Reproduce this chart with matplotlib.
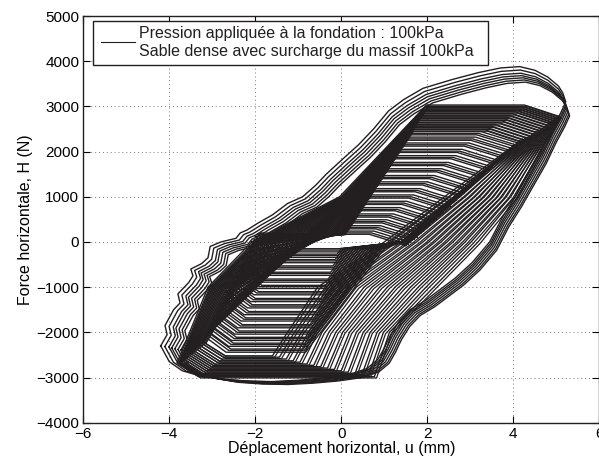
import numpy as np
import matplotlib
matplotlib.use('Agg')
import matplotlib.pyplot as plt
from matplotlib.patches import Rectangle

plt.rcParams['font.family'] = ['Liberation Sans', 'DejaVu Sans']

LINE = '#231f20'

# ---------------- data ----------------
# clean inner cycles (growing amplitude): plateau forces and tip displacements
inner_top_h = [200, 320, 450, 580, 720, 860, 1000, 1140, 1290, 1430, 1580, 1720, 1870,
               2010, 2150, 2280, 2400]
inner_bot_h = [-180, -300, -420, -560, -700, -850, -990, -1130, -1280, -1420, -1570,
               -1710, -1860, -2000, -2140, -2270, -2400]
inner_tip_pos_u = [1.55, 1.70, 1.85, 2.00, 2.15, 2.31, 2.47, 2.62, 2.79, 2.95, 3.12,
                   3.28, 3.45, 3.60, 3.76, 3.91, 4.05]
inner_tip_neg_u = [-1.95, -2.03, -2.10, -2.17, -2.25, -2.33, -2.40, -2.47, -2.55, -2.62,
                   -2.70, -2.77, -2.85, -2.92, -2.99, -3.06, -3.12]
# where each inner cycle passes the pinched zone near H = 0 (reloading / unloading)
inner_reload_mid_u = [0.05, 0.00, -0.05, -0.10, -0.15, -0.20, -0.25, -0.30, -0.35, -0.40,
                      -0.45, -0.50, -0.55, -0.60, -0.65, -0.70, -0.75]
inner_unload_mid_u = [0.00, 0.05, 0.10, 0.16, 0.22, 0.28, 0.34, 0.40, 0.46, 0.52, 0.58,
                      0.64, 0.70, 0.76, 0.82, 0.88, 0.94]
# repetitions of each inner cycle
rep_du = [0.0, 0.06, -0.05]
rep_dh = [0, 40, -30]

# dense large cycles: plateau forces, tips and where the branches cross H = 1000, 0, -1000, -2000
big_top_h = [2480, 2520, 2560, 2600, 2640, 2680, 2720, 2760, 2800, 2840, 2880, 2910,
             2940, 2970, 3000, 3030]
big_bot_h = [-2520, -2550, -2590, -2630, -2660, -2700, -2730, -2760, -2790, -2820, -2850,
             -2880, -2910, -2940, -2960, -2980]
big_tip_pos_u = [4.15, 4.22, 4.30, 4.38, 4.46, 4.53, 4.60, 4.66, 4.72, 4.78, 4.84, 4.89,
                 4.94, 4.98, 5.02, 5.06]
big_tip_neg_u = [-3.20, -3.24, -3.29, -3.34, -3.39, -3.44, -3.48, -3.52, -3.56, -3.60,
                 -3.64, -3.68, -3.72, -3.75, -3.78, -3.82]
big_unload_u_p1000 = [2.40, 2.52, 2.64, 2.76, 2.88, 3.00, 3.11, 3.22, 3.33, 3.44, 3.54,
                      3.64, 3.74, 3.84, 3.94, 4.04]
big_unload_u_0 = [1.00, 1.15, 1.30, 1.45, 1.60, 1.75, 1.90, 2.04, 2.18, 2.32, 2.46, 2.60,
                  2.74, 2.88, 3.02, 3.18]
big_unload_u_m1000 = [-0.55, -0.37, -0.19, -0.01, 0.17, 0.35, 0.53, 0.71, 0.89, 1.07,
                      1.25, 1.43, 1.61, 1.79, 1.97, 2.15]
big_unload_u_m2000 = [-1.25, -1.09, -0.93, -0.77, -0.61, -0.45, -0.29, -0.13, 0.03, 0.19,
                      0.35, 0.51, 0.67, 0.83, 0.98, 1.12]
big_reload_u_m1000 = [-2.45, -2.50, -2.55, -2.60, -2.65, -2.70, -2.74, -2.78, -2.82,
                      -2.86, -2.90, -2.94, -2.98, -3.02, -3.06, -3.10]
big_reload_u_0 = [-1.00, -1.08, -1.16, -1.24, -1.32, -1.40, -1.48, -1.55, -1.62, -1.69,
                  -1.76, -1.83, -1.90, -1.96, -2.02, -2.08]
big_reload_u_p1000 = [0.48, 0.45, 0.42, 0.39, 0.35, 0.32, 0.28, 0.25, 0.21, 0.18, 0.14,
                      0.10, 0.07, 0.03, 0.00, -0.04]

# outermost cycles: one digitised loop and drift of each repetition
outer_u = [-4.20, -4.05, -4.10, -3.90, -3.75, -3.80, -3.55, -3.45, -3.50, -3.25, -3.10,
           -3.05, -2.80, -2.45, -2.35, -2.20, -1.95, -1.60, -1.25, -0.90, -0.60, -0.35,
           0.05, 0.40, 0.75, 1.10, 1.45, 1.90, 2.60, 3.20, 3.70, 4.15, 4.50, 4.80, 5.05,
           5.15, 5.22, 5.10, 4.90, 4.65, 4.35, 4.05, 3.75, 3.45, 3.05, 2.65, 2.30, 1.95,
           1.60, 1.35, 1.15, 1.00, 0.85, 0.60, 0.20, -0.40, -1.00, -1.60, -2.20, -2.80,
           -3.30, -3.70, -4.00, -4.20]
outer_h = [-2300, -2050, -1850, -1500, -1350, -1150, -900, -750, -600, -480, -350,
           -100, 0, 80, 200, 260, 410, 600, 850, 1000, 1250, 1500,
           1850, 2150, 2500, 2900, 3150, 3400, 3600, 3750, 3850, 3880, 3800, 3650, 3450,
           3300, 3100, 2850, 2500, 2000, 1500, 1000, 550, 0, -450, -800, -1050, -1300,
           -1500, -1750, -2050, -2350, -2600, -2800, -2930, -3010, -3060, -3090, -3080, -3040,
           -2960, -2850, -2650, -2300]
outer_rep_du = [0.00, 0.05, 0.10, 0.14, 0.19, 0.24, 0.28]
outer_rep_dh = [0, -40, -75, -110, -140, -170, -200]
outer_rep_scale = [1.00, 0.99, 0.98, 0.975, 0.97, 0.965, 0.96]

legend_lines = ['Pression appliquée à la fondation : 100kPa',
                'Sable dense avec surcharge du massif 100kPa']

x_ticks = [-6, -4, -2, 0, 2, 4, 6]
y_ticks = [-4000, -3000, -2000, -1000, 0, 1000, 2000, 3000, 4000, 5000]


def inner_cycle(top_h, bot_h, up, um, ru, wu):
    t_pos = (up, top_h - 250)
    r1 = (up - 0.85, top_h)
    l1 = (0.2 + (top_h - 300) / 1450.0, top_h)
    w1 = (ru, 160)
    t_neg = (um, bot_h + 350)
    l2 = (um + 0.5, bot_h)
    r2 = (wu + (bot_h + 150) / 1250.0, bot_h)
    w2b = (wu, -150)
    w2 = (1.4, 0)
    pts = [t_pos, w2, w2b, r2, l2, t_neg, w1, l1, r1, t_pos]
    return [p[0] for p in pts], [p[1] for p in pts]


def big_cycle(top_h, bot_h, up, um, a1, a0, am1, am2, b1, b0, bp1):
    pts = [(up, top_h - 250), (a1, 1000), (a0, 0), (am1, -1000), (am2, -2000),
           (am2 - 0.35, bot_h), (um + 0.5, bot_h), (um, bot_h + 300), (b1, -1000),
           (b0, 0), (bp1, 1000), (0.1 + (top_h - 300) / 1450.0, top_h),
           (up - 0.8, top_h), (up, top_h - 250)]
    return [p[0] for p in pts], [p[1] for p in pts]


fig = plt.figure(figsize=(5.99, 4.66), dpi=100)
ax = fig.add_axes([83.3 / 599, 43.3 / 466, 516 / 599, 406.7 / 466])

for th, bh, up, um, ru, wu in zip(inner_top_h, inner_bot_h, inner_tip_pos_u,
                                  inner_tip_neg_u, inner_reload_mid_u, inner_unload_mid_u):
    for du, dh in zip(rep_du, rep_dh):
        xs, ys = inner_cycle(th + dh, bh - dh, up + du, um - du, ru - du, wu + du)
        ax.plot(xs, ys, color=LINE, lw=1.0)

for args in zip(big_top_h, big_bot_h, big_tip_pos_u, big_tip_neg_u, big_unload_u_p1000,
                big_unload_u_0, big_unload_u_m1000, big_unload_u_m2000,
                big_reload_u_m1000, big_reload_u_0, big_reload_u_p1000):
    xs, ys = big_cycle(*args)
    ax.plot(xs, ys, color=LINE, lw=1.0)
    ax.plot([x + 0.05 for x in xs], [y - 30 for y in ys], color=LINE, lw=0.9)

cu, ch = 0.45, 300.0
for du, dh, s in zip(outer_rep_du, outer_rep_dh, outer_rep_scale):
    xs = [cu + (u - cu) * s + du for u in outer_u]
    ys = [ch + (h - ch) * s + dh for h in outer_h]
    ax.plot(xs, ys, color=LINE, lw=1.0)

ax.set_xlim(-6, 6)
ax.set_ylim(-4000, 5000)
ax.set_xticks(x_ticks)
ax.set_yticks(y_ticks)
ax.set_xticklabels(['\u2212' + str(abs(t)) if t < 0 else str(t) for t in x_ticks])
ax.set_yticklabels(['\u2212' + str(abs(t)) if t < 0 else str(t) for t in y_ticks])
ax.tick_params(direction='in', top=True, right=True, length=5, width=0.8,
               labelsize=11, pad=3)
ax.grid(True, color='#7a7a7a', linestyle=(0, (1, 3)), linewidth=0.7)
for sp in ax.spines.values():
    sp.set_linewidth(1.0)
    sp.set_color(LINE)

ax.set_xlabel('Déplacement horizontal, u (mm)', fontsize=11.5, labelpad=0)
ax.set_ylabel('Force horizontale, H (N)', fontsize=11.5, labelpad=2)

# legend box (MATLAB style), in axes fraction
ax.add_patch(Rectangle((0.0194, 0.8795), 0.7649, 0.1082, transform=ax.transAxes,
                       facecolor='white', edgecolor=LINE, linewidth=1.0, zorder=5))
ax.plot([0.0337, 0.1002], [0.9361, 0.9361], transform=ax.transAxes, color=LINE,
        lw=0.8, zorder=6)
ax.text(0.1085, 0.9460, legend_lines[0], transform=ax.transAxes, fontsize=11.5,
        va='baseline', ha='left', color=LINE, zorder=6)
ax.text(0.1085, 0.9017, legend_lines[1], transform=ax.transAxes, fontsize=11.5,
        va='baseline', ha='left', color=LINE, zorder=6)

fig.savefig('out.png', dpi=100)
